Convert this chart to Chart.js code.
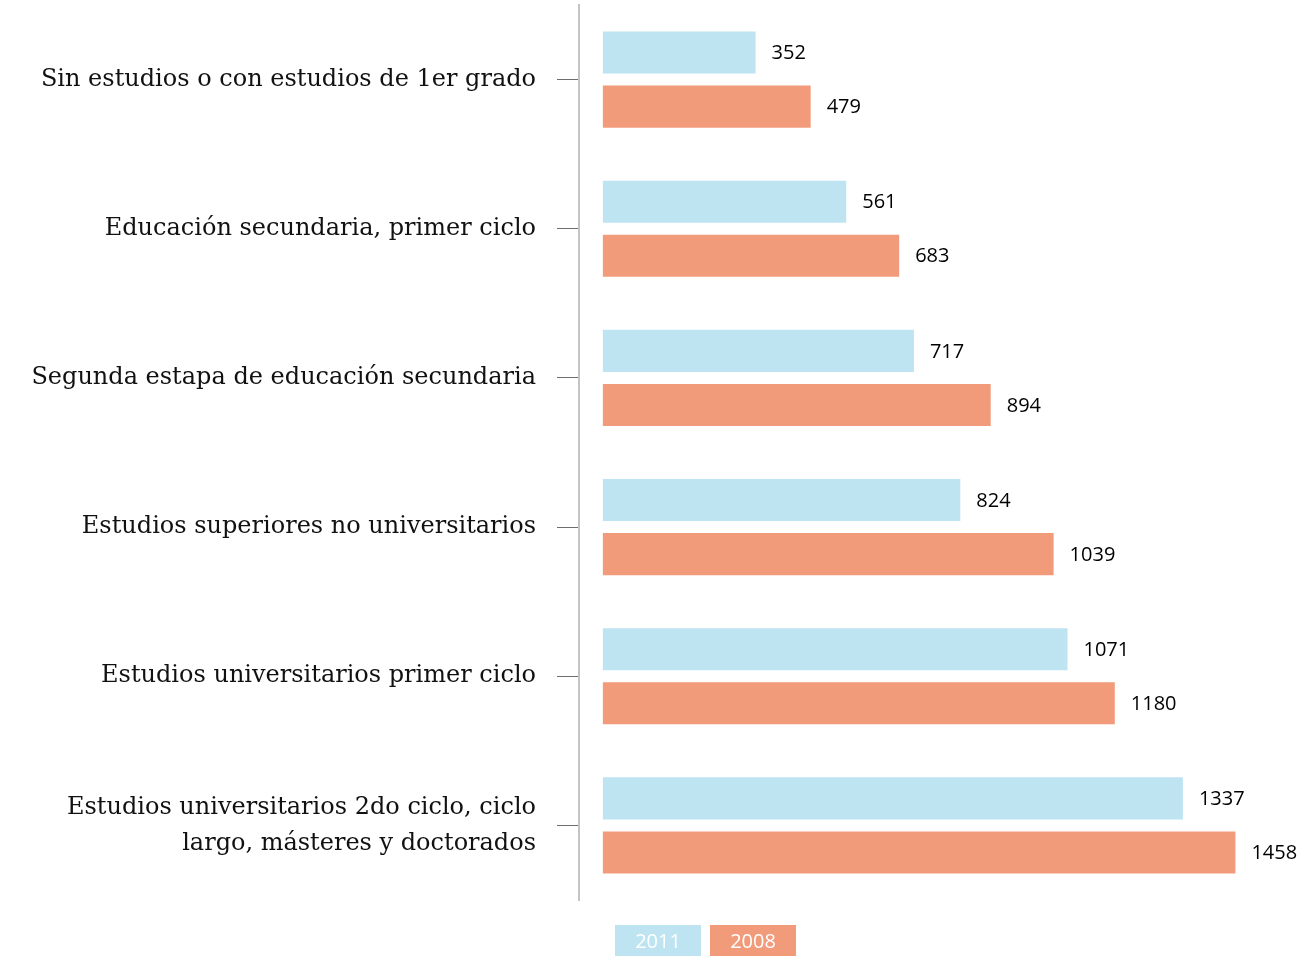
<!DOCTYPE html>
<html>
<head>
<meta charset="utf-8">
<script src="https://cdn.jsdelivr.net/npm/chart.js@4"></script>
<style>
  body { margin: 0; background: #ffffff; }
  #wrap { width: 1306px; height: 956px; position: relative; }
</style>
</head>
<body>
<div id="wrap"><canvas id="barChart"></canvas></div>
<script>
// Niveles de estudio
const categorias = [
  "Sin estudios o con estudios de 1er grado",
  "Educación secundaria, primer ciclo",
  "Segunda estapa de educación secundaria",
  "Estudios superiores no universitarios",
  "Estudios universitarios primer ciclo",
  ["Estudios universitarios 2do ciclo, ciclo", "largo, másteres y doctorados"],
];

const valores2011 = [352, 561, 717, 824, 1071, 1337];
const valores2008 = [479, 683, 894, 1039, 1180, 1458];

const AZUL = "#bee3f1";
const SALMON = "#f29b7a";

// etiquetas con el valor al final de cada barra
const etiquetasValor = {
  id: "etiquetasValor",
  afterDatasetsDraw(chart) {
    const ctx = chart.ctx;
    ctx.save();
    ctx.font = "20px 'Open Sans', sans-serif";
    ctx.fillStyle = "#000000";
    ctx.textAlign = "left";
    ctx.textBaseline = "middle";
    chart.data.datasets.forEach((ds, i) => {
      chart.getDatasetMeta(i).data.forEach((bar, j) => {
        ctx.fillText(ds.data[j], bar.x + 16, bar.y + 1);
      });
    });
    ctx.restore();
  },
};

// leyenda: texto blanco dentro de cada caja
const leyendaCajas = {
  id: "leyendaCajas",
  afterDraw(chart) {
    const ctx = chart.ctx;
    const area = chart.chartArea;
    let x = area.left + 36;
    const y = area.bottom + 25;
    ctx.save();
    ctx.font = "20px 'Open Sans', sans-serif";
    ctx.textAlign = "center";
    ctx.textBaseline = "middle";
    chart.data.datasets.forEach((ds) => {
      ctx.fillStyle = ds.backgroundColor;
      ctx.fillRect(x, y, 86, 34);
      ctx.fillStyle = "#ffffff";
      ctx.fillText(ds.label, x + 43, y + 17);
      x += 95;
    });
    ctx.restore();
  },
};

new Chart(document.getElementById("barChart"), {
  type: "bar",

  data: {
    labels: categorias,

    datasets: [
      {
        label: "2011",
        data: valores2011,
        backgroundColor: AZUL,
        categoryPercentage: 0.725,
        barPercentage: 0.778,
      },
      {
        label: "2008",
        data: valores2008,
        backgroundColor: SALMON,
        categoryPercentage: 0.725,
        barPercentage: 0.778,
      },
    ],
  },

  options: {
    indexAxis: "y",
    responsive: true,
    maintainAspectRatio: false,
    animation: false,

    layout: {
      padding: { top: 5, bottom: 56, left: 0, right: 9 },
    },

    plugins: {
      legend: { display: false },
      tooltip: { enabled: false },
    },

    scales: {
      x: {
        display: false,
        min: -55,
        max: 1600,
      },

      y: {
        afterFit: (scale) => {
          scale.width = 579;
          scale.paddingTop = 0;
          scale.paddingBottom = 0;
        },
        border: {
          display: true,
          color: "#c4c4c4",
          width: 2,
        },
        grid: {
          offset: false,
          drawOnChartArea: false,
          drawTicks: true,
          tickLength: 22,
          tickColor: "#6e6e6e",
          tickWidth: 1,
        },
        ticks: {
          color: "#111111",
          padding: 21,
          font: {
            family: "'DejaVu Serif', serif",
            size: 24,
            lineHeight: 1.5,
          },
        },
      },
    },
  },

  plugins: [etiquetasValor, leyendaCajas],
});
</script>
</body>
</html>
